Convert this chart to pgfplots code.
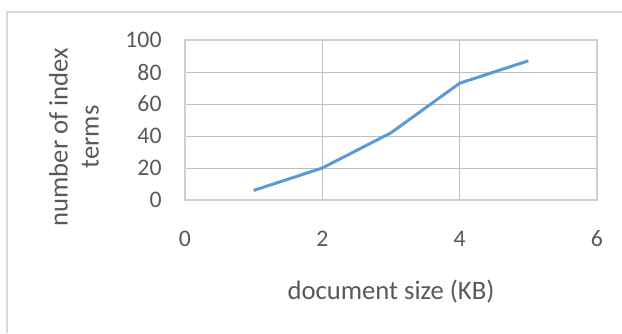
\documentclass[border=0pt]{standalone}
\usepackage{pgfplots}
\pgfplotsset{compat=1.18}
\usepackage{fontspec}
\setmainfont{Carlito}
\definecolor{txt}{HTML}{595959}
\definecolor{grid}{HTML}{D9D9D9}
\definecolor{axln}{HTML}{CFCFCF}
\definecolor{ser}{HTML}{5B9BD5}
\begin{document}
\begin{tikzpicture}[x=0.75pt,y=0.75pt]
\path[use as bounding box] (0,0) rectangle (622,-333);
\draw[grid, line width=1.5pt] (7,-333) -- (7,-12) -- (622,-12);
\begin{axis}[
  at={(138.75pt,-150pt)}, anchor=south west,
  scale only axis, width=309pt, height=120pt,
  xmin=0, xmax=6, ymin=0, ymax=100,
  xtick={0,2,4,6}, ytick={0,20,40,60,80,100},
  grid=major,
  major grid style={grid, line width=0.75pt},
  axis line style={axln, line width=0.9pt},
  tick style={draw=none},
  /pgf/number format/assume math mode=true,
  ticklabel style={font=\fontsize{17.8}{20}\selectfont, text=txt},
  xticklabel style={anchor=base, inner sep=0pt, yshift=-35pt},
  yticklabel style={anchor=east, inner sep=0pt, xshift=-17.4pt},
]
\addplot[ser, line width=2.25pt, no markers] coordinates {
  (1,6) (2,20) (3,42) (4,73) (5,87)
};
\end{axis}
\node[anchor=base, text=txt, font=\fontsize{20}{24}\selectfont, inner sep=0pt] at (391,-299) {document size (KB)};
\node[rotate=90, align=center, text=txt, font=\fontsize{20}{23.25}\selectfont, inner sep=0pt] at (74,-137) {number of index\\terms};
\end{tikzpicture}
\end{document}
